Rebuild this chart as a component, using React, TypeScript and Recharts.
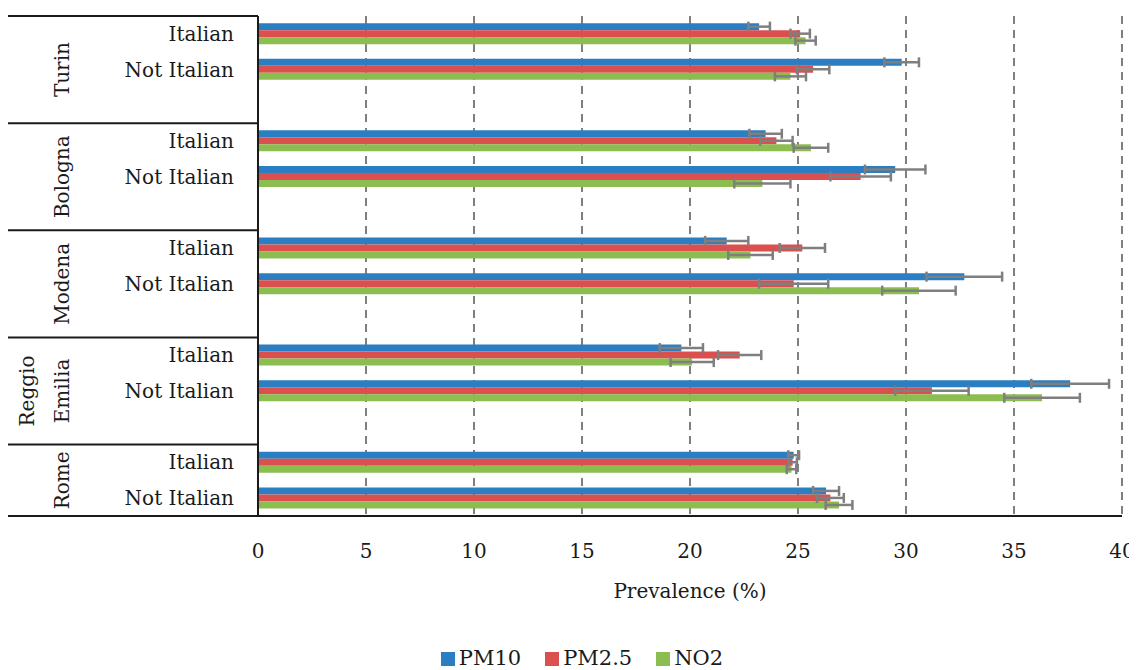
import { BarChart, Bar, XAxis, YAxis, CartesianGrid, ErrorBar, Legend } from "recharts";

const CITIES = ["Turin", "Bologna", "Modena", "Reggio Emilia", "Rome"];
const GROUPS = ["Italian", "Not Italian"];

// order: city by city, Italian then Not Italian
const PM10 = [23.2, 29.8, 23.5, 29.5, 21.7, 32.7, 19.6, 37.6, 24.8, 26.3];
const PM10_ERR = [0.5, 0.8, 0.75, 1.4, 1.0, 1.75, 1.0, 1.8, 0.25, 0.6];
const PM25 = [25.1, 25.7, 24.0, 27.9, 25.2, 24.8, 22.3, 31.2, 24.75, 26.5];
const PM25_ERR = [0.45, 0.75, 0.75, 1.4, 1.05, 1.6, 1.0, 1.7, 0.2, 0.62];
const NO2 = [25.35, 24.65, 25.6, 23.35, 22.8, 30.6, 20.1, 36.3, 24.7, 26.9];
const NO2_ERR = [0.47, 0.72, 0.8, 1.3, 1.03, 1.7, 1.0, 1.75, 0.22, 0.62];

const X_TICKS = [0, 5, 10, 15, 20, 25, 30, 35, 40];

const SERIES = [
  { key: "pm10", err: "pm10Err", name: "PM10", color: "#2B7EC1" },
  { key: "pm25", err: "pm25Err", name: "PM2.5", color: "#DC4F4F" },
  { key: "no2", err: "no2Err", name: "NO2", color: "#8BBD50" },
];

type Row = {
  id: string;
  city: string;
  group: string;
  pm10: number | null;
  pm10Err: number | null;
  pm25: number | null;
  pm25Err: number | null;
  no2: number | null;
  no2Err: number | null;
};

const ROWS: Row[] = [];
CITIES.forEach((city, ci) => {
  GROUPS.forEach((group, gi) => {
    const i = ci * 2 + gi;
    ROWS.push({
      id: `${city}|${group}`,
      city,
      group,
      pm10: PM10[i],
      pm10Err: PM10_ERR[i],
      pm25: PM25[i],
      pm25Err: PM25_ERR[i],
      no2: NO2[i],
      no2Err: NO2_ERR[i],
    });
  });
  if (ci < CITIES.length - 1) {
    ROWS.push({
      id: `${city}|gap`,
      city,
      group: "",
      pm10: null,
      pm10Err: null,
      pm25: null,
      pm25Err: null,
      no2: null,
      no2Err: null,
    });
  }
});

const FONT = "'DejaVu Serif', serif";
const W = 1129;
const H = 662;
const M = { top: 8, right: 15, bottom: 0, left: 0 };
const Y_W = 250;
const PLOT_H = 500;
const BAND = PLOT_H / ROWS.length;
const LINE = "#1a1a1a";

function YTick(props: any) {
  const { y, payload } = props;
  const row = ROWS.find((r) => r.id === payload.value);
  if (!row || !row.group) return null;
  const els: any[] = [];
  els.push(
    <text key="g" x={226} y={y + 7} textAnchor="end" fontFamily={FONT} fontSize={20} fill="#1a1a1a">
      {row.group}
    </text>
  );
  if (row.group === "Italian") {
    const nSlots = ROWS.filter((r) => r.city === row.city).length;
    const top = y - BAND / 2;
    const cy = top + (nSlots * BAND) / 2;
    els.push(<line key="sep" x1={0} x2={Y_W} y1={top} y2={top} stroke={LINE} strokeWidth={2} />);
    const parts = row.city.split(" ");
    els.push(
      <text
        key="c"
        transform={`translate(61, ${cy}) rotate(-90)`}
        textAnchor="middle"
        fontFamily={FONT}
        fontSize={20}
        fill="#1a1a1a"
      >
        {parts.length === 1 ? (
          <tspan x={0} y={0}>{parts[0]}</tspan>
        ) : (
          parts.map((p, i) => (
            <tspan key={p} x={0} y={(i - parts.length + 1) * 35}>
              {p}
            </tspan>
          ))
        )}
      </text>
    );
  }
  if (row.id === ROWS[ROWS.length - 1].id) {
    const bottom = y + BAND / 2;
    els.push(<line key="bot" x1={0} x2={Y_W} y1={bottom} y2={bottom} stroke={LINE} strokeWidth={2} />);
  }
  return <g>{els}</g>;
}

function XTick(props: any) {
  const { x, y, payload } = props;
  return (
    <text x={x} y={y + 42} textAnchor="middle" fontFamily={FONT} fontSize={20} fill="#1a1a1a">
      {payload.value}
    </text>
  );
}

function LegendContent() {
  return (
    <div
      style={{
        display: "flex",
        justifyContent: "center",
        alignItems: "flex-end",
        paddingLeft: 58,
        height: 20,
        fontFamily: FONT,
        fontSize: 21,
        lineHeight: "20px",
        color: "#1a1a1a",
      }}
    >
      {SERIES.map((s) => (
        <div key={s.key} style={{ display: "flex", alignItems: "flex-end", marginRight: 24 }}>
          <span
            style={{ display: "inline-block", width: 14, height: 14, background: s.color, marginRight: 4, marginBottom: 2 }}
          />
          <span>{s.name}</span>
        </div>
      ))}
    </div>
  );
}

export default function App() {
  return (
    <BarChart
      width={W}
      height={H}
      data={ROWS}
      layout="vertical"
      margin={M}
      barCategoryGap="20%"
      barGap={0}
    >
      <CartesianGrid horizontal={false} stroke="#808080" strokeWidth={2} strokeDasharray="8 6" />
      <XAxis
        type="number"
        domain={[0, 40]}
        ticks={X_TICKS}
        interval={0}
        height={134}
        tick={<XTick />}
        tickLine={false}
        tickSize={0}
        tickMargin={0}
        axisLine={{ stroke: LINE, strokeWidth: 2 }}
        label={{
          value: "Prevalence (%)",
          position: "insideTop",
          offset: 68,
          style: { fontFamily: FONT, fontSize: 20, fill: "#1a1a1a" },
        }}
      />
      <YAxis
        type="category"
        dataKey="id"
        width={Y_W}
        interval={0}
        tick={<YTick />}
        tickLine={false}
        axisLine={{ stroke: LINE, strokeWidth: 2 }}
      />
      <Legend verticalAlign="bottom" content={<LegendContent />} wrapperStyle={{ bottom: 2 }} />
      {SERIES.map((s) => (
        <Bar key={s.key} dataKey={s.key} name={s.name} fill={s.color} isAnimationActive={false}>
          <ErrorBar dataKey={s.err} direction="x" width={5} stroke="#7f7f7f" strokeWidth={2.5} />
        </Bar>
      ))}
    </BarChart>
  );
}
